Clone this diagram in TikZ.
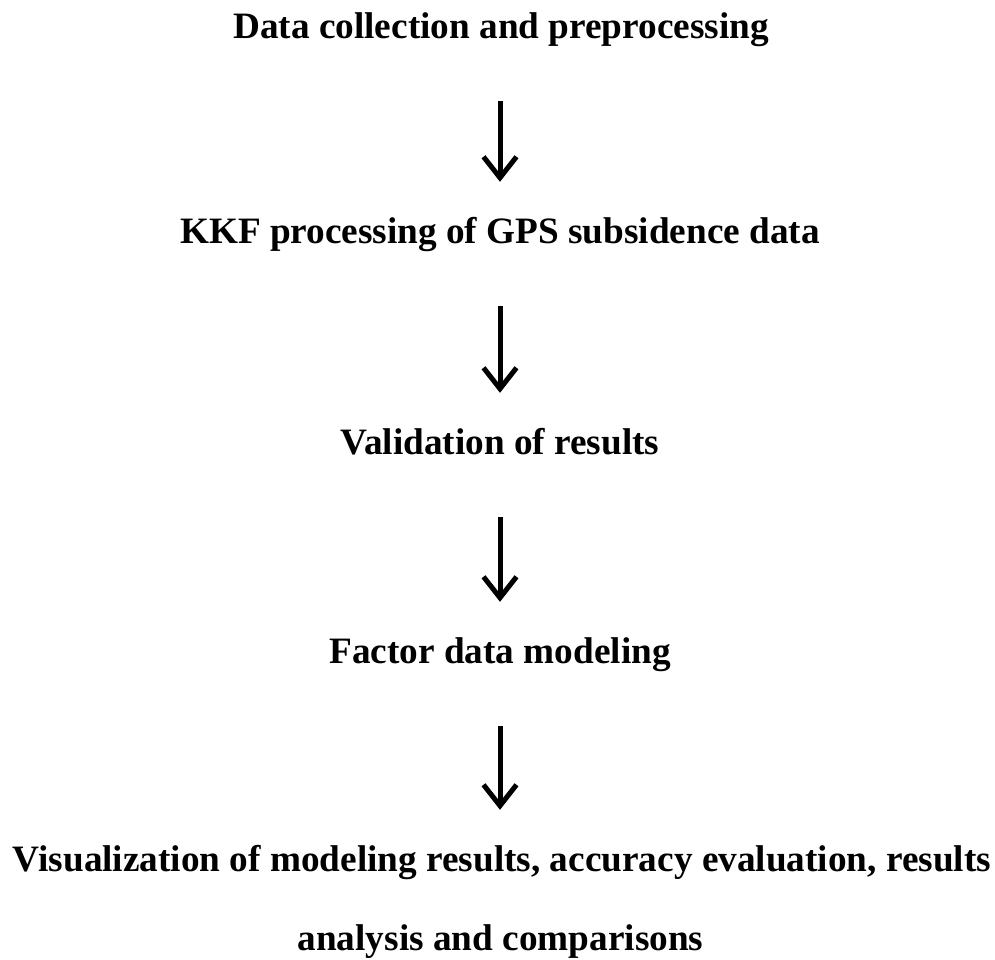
\documentclass[tikz,border=0pt]{standalone}
\usepackage{fontspec}
\setmainfont{Liberation Serif}
\usetikzlibrary{arrows.meta}
\tikzset{
  stepnode/.style={inner sep=0pt, anchor=base, text height=26pt, text depth=9pt,
    font=\fontsize{37.25pt}{40pt}\selectfont\bfseries},
  flow/.style={line width=5pt, -{Straight Barb[length=21pt,width=33pt]},
    shorten <=54pt, shorten >=35pt}
}
\begin{document}
\begin{tikzpicture}[x=1pt,y=1pt]
\useasboundingbox (0,0) rectangle (995,-959);
\node[stepnode] (t1) at (501,-38) {Data collection and preprocessing};
\node[stepnode] (t2) at (500,-243) {KKF processing of GPS subsidence data};
\node[stepnode] (t3) at (500,-454) {Validation of results};
\node[stepnode] (t4) at (500,-663) {Factor data modeling};
\node[stepnode] (t5) at (502,-871) {Visualization of modeling results, accuracy evaluation, results};
\node[stepnode] (t6) at (500.5,-950) {analysis and comparisons};
\draw[flow] (t1.south -| 500,0) -- (t2.north -| 500,0);
\draw[flow] (t2.south -| 500,0) -- (t3.north -| 500,0);
\draw[flow] (t3.south -| 500,0) -- (t4.north -| 500,0);
\draw[flow] (t4.south -| 500,0) -- (t5.north -| 500,0);
\end{tikzpicture}
\end{document}
